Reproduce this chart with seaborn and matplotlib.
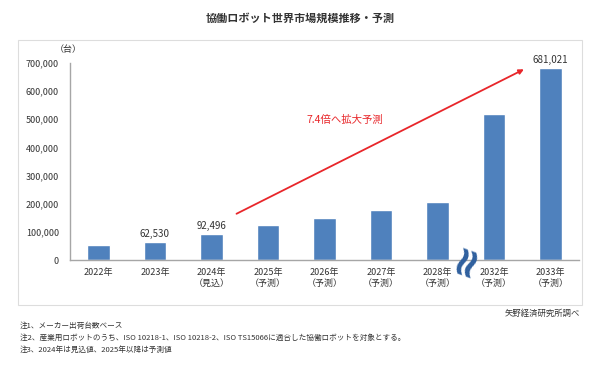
import numpy as np
import pandas as pd
import seaborn as sns
import matplotlib.pyplot as plt

sns.set_theme(style='white')
plt.rcParams['font.family'] = ['Noto Sans CJK JP', 'DejaVu Sans']

# データ（読み取り値）
years = ['2022年', '2023年', '2024年\n（見込）', '2025年\n（予測）', '2026年\n（予測）',
         '2027年\n（予測）', '2028年\n（予測）', '2032年\n（予測）', '2033年\n（予測）']
units = [53000, 62530, 92496, 124000, 150000, 178000, 205000, 518000, 681021]
labeled = {1: '62,530', 2: '92,496', 8: '681,021'}
notes = ['注1、メーカー出荷台数ベース',
         '注2、産業用ロボットのうち、ISO 10218-1、ISO 10218-2、ISO TS15066に適合した協働ロボットを対象とする。',
         '注3、2024年は見込値、2025年以降は予測値']

df = pd.DataFrame({'year': years, 'units': units})

fig = plt.figure(figsize=(6, 3.83), dpi=100)
ax = fig.add_axes([0.1167, 0.321, 0.8483, 0.5145])

sns.barplot(data=df, x='year', y='units', color='#4F81BD', saturation=1, width=0.4, ax=ax)

ax.set_ylim(0, 700000)
ax.set_xlim(-0.5, 8.5)
ax.set_yticks(np.arange(0, 700001, 100000))
ax.set_yticklabels([f'{v:,}' for v in range(0, 700001, 100000)], fontsize=6.5, color='#333333')
ax.tick_params(axis='x', labelsize=6.5, colors='#333333', length=0, pad=6)
ax.tick_params(axis='y', length=0, pad=8)
ax.set_xlabel('')
ax.set_ylabel('')
for s in ['top', 'right']:
    ax.spines[s].set_visible(False)
for s in ['left', 'bottom']:
    ax.spines[s].set_color('#a6a6a6')
    ax.spines[s].set_linewidth(1)

# 数値ラベル
for i, txt in labeled.items():
    ax.text(i, units[i] + 12000, txt, ha='center', va='bottom', fontsize=7, color='#333333')

# 矢印
ax.annotate('', xy=(7.57, 682000), xytext=(2.4, 160000),
            arrowprops=dict(arrowstyle='-|>', color='#e8262a', lw=1.3, mutation_scale=7))
ax.text(4.36, 497000, '7.4倍へ拡大予測', color='#e8262a', fontsize=7.5, ha='center', va='center')

# 省略記号
ax.text(6.5, 3000, '≈', rotation=70, fontsize=30, color='#2e5f9e', ha='center', va='center',
        fontweight='bold', clip_on=False, family='DejaVu Sans')

# 枠・文字
fig.patches.append(plt.Rectangle((0.03, 0.204), 0.94, 0.692, transform=fig.transFigure,
                                 fill=False, edgecolor='#dddddd', lw=0.8))
fig.text(0.5, 0.953, '協働ロボット世界市場規模推移・予測', ha='center', va='center',
         fontsize=8, color='#333333', fontweight='bold')
fig.text(0.113, 0.872, '（台）', ha='center', va='center', fontsize=6.5, color='#333333')
fig.text(0.967, 0.183, '矢野経済研究所調べ', ha='right', va='center', fontsize=6, color='#333333')
for k, n in enumerate(notes):
    fig.text(0.033, 0.149 - k * 0.031, n, ha='left', va='center', fontsize=5.5, color='#333333')

fig.savefig('out.png', dpi=100, facecolor='white')
